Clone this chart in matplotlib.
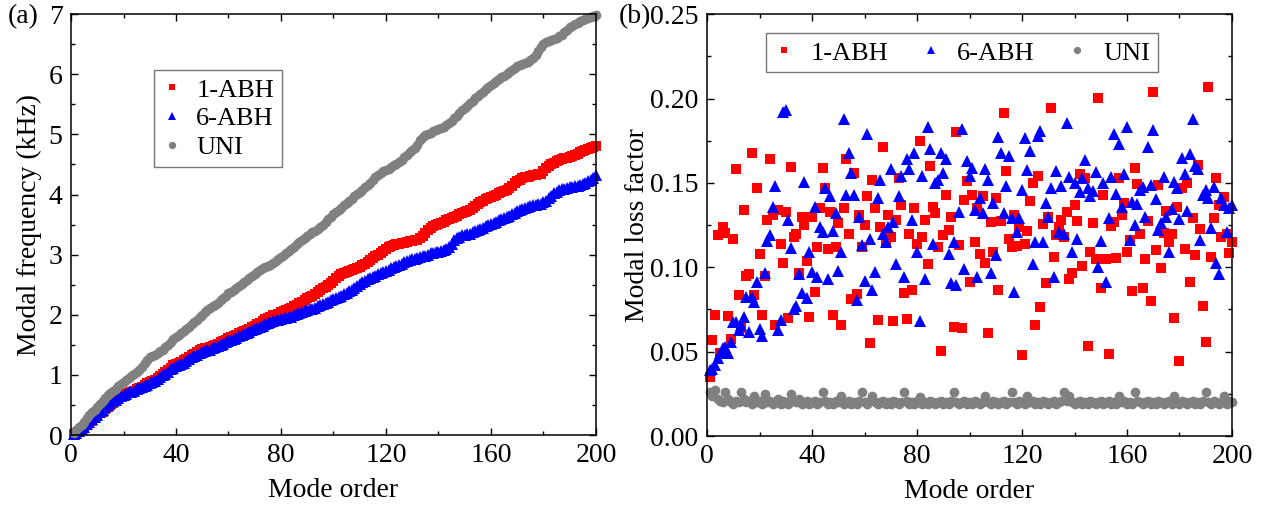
import matplotlib.pyplot as plt
from matplotlib.ticker import MultipleLocator, FormatStrFormatter

plt.rcParams['font.family'] = ['Liberation Serif', 'DejaVu Serif']
plt.rcParams['mathtext.fontset'] = 'stix'

modes = list(range(1, 201))

# (a) modal frequency, kHz
freq_abh1 = [
    0.01, 0.03, 0.06, 0.09, 0.13, 0.16, 0.20, 0.24, 0.28, 0.32,
    0.36, 0.39, 0.43, 0.46, 0.50, 0.53, 0.56, 0.60, 0.64, 0.66,
    0.68, 0.70, 0.72, 0.74, 0.76, 0.78, 0.80, 0.83, 0.86, 0.88,
    0.90, 0.92, 0.95, 0.98, 1.01, 1.04, 1.08, 1.12, 1.16, 1.18,
    1.20, 1.22, 1.24, 1.27, 1.30, 1.33, 1.35, 1.38, 1.41, 1.43,
    1.44, 1.45, 1.46, 1.48, 1.50, 1.52, 1.54, 1.56, 1.58, 1.61,
    1.63, 1.65, 1.67, 1.69, 1.71, 1.73, 1.75, 1.77, 1.79, 1.81,
    1.84, 1.87, 1.90, 1.93, 1.95, 1.97, 1.99, 2.00, 2.02, 2.04,
    2.06, 2.08, 2.10, 2.12, 2.14, 2.16, 2.19, 2.22, 2.25, 2.28,
    2.30, 2.32, 2.35, 2.38, 2.41, 2.44, 2.47, 2.50, 2.53, 2.57,
    2.61, 2.64, 2.67, 2.69, 2.71, 2.72, 2.74, 2.76, 2.78, 2.80,
    2.82, 2.85, 2.88, 2.91, 2.94, 2.97, 3.00, 3.03, 3.06, 3.09,
    3.12, 3.14, 3.16, 3.17, 3.18, 3.19, 3.20, 3.21, 3.22, 3.23,
    3.24, 3.25, 3.27, 3.31, 3.36, 3.41, 3.45, 3.47, 3.49, 3.51,
    3.53, 3.55, 3.57, 3.59, 3.61, 3.63, 3.65, 3.67, 3.69, 3.71,
    3.73, 3.75, 3.78, 3.81, 3.84, 3.87, 3.90, 3.92, 3.94, 3.96,
    3.98, 4.00, 4.02, 4.04, 4.06, 4.08, 4.11, 4.15, 4.19, 4.23,
    4.25, 4.27, 4.29, 4.30, 4.31, 4.32, 4.33, 4.34, 4.35, 4.39,
    4.44, 4.48, 4.51, 4.53, 4.55, 4.57, 4.59, 4.60, 4.61, 4.62,
    4.64, 4.66, 4.68, 4.70, 4.72, 4.74, 4.76, 4.78, 4.79, 4.80,
]
freq_abh6 = [
    0.01, 0.03, 0.06, 0.10, 0.14, 0.18, 0.22, 0.26, 0.30, 0.34,
    0.38, 0.42, 0.46, 0.50, 0.53, 0.56, 0.59, 0.62, 0.65, 0.67,
    0.69, 0.71, 0.72, 0.74, 0.76, 0.78, 0.80, 0.82, 0.84, 0.86,
    0.88, 0.90, 0.93, 0.96, 0.99, 1.02, 1.05, 1.09, 1.12, 1.14,
    1.16, 1.18, 1.20, 1.23, 1.26, 1.29, 1.31, 1.33, 1.36, 1.38,
    1.40, 1.41, 1.42, 1.44, 1.46, 1.48, 1.50, 1.52, 1.54, 1.56,
    1.58, 1.60, 1.62, 1.64, 1.66, 1.68, 1.70, 1.72, 1.74, 1.76,
    1.78, 1.80, 1.82, 1.84, 1.86, 1.88, 1.90, 1.91, 1.92, 1.93,
    1.94, 1.95, 1.96, 1.97, 1.99, 2.01, 2.03, 2.05, 2.07, 2.08,
    2.09, 2.10, 2.12, 2.14, 2.16, 2.18, 2.20, 2.22, 2.24, 2.26,
    2.28, 2.30, 2.32, 2.34, 2.36, 2.39, 2.42, 2.45, 2.48, 2.51,
    2.54, 2.57, 2.59, 2.61, 2.63, 2.65, 2.67, 2.69, 2.71, 2.73,
    2.75, 2.77, 2.79, 2.81, 2.83, 2.85, 2.87, 2.89, 2.91, 2.92,
    2.93, 2.95, 2.96, 2.97, 2.98, 3.00, 3.02, 3.03, 3.04, 3.05,
    3.06, 3.08, 3.10, 3.12, 3.18, 3.24, 3.28, 3.30, 3.32, 3.33,
    3.34, 3.35, 3.37, 3.39, 3.41, 3.43, 3.45, 3.47, 3.49, 3.51,
    3.53, 3.55, 3.57, 3.59, 3.61, 3.63, 3.65, 3.68, 3.70, 3.72,
    3.74, 3.76, 3.78, 3.80, 3.81, 3.82, 3.83, 3.84, 3.85, 3.87,
    3.90, 3.94, 3.98, 4.02, 4.05, 4.07, 4.09, 4.10, 4.11, 4.12,
    4.13, 4.14, 4.15, 4.16, 4.18, 4.20, 4.22, 4.25, 4.28, 4.32,
]
freq_uni = [
    0.03, 0.08, 0.13, 0.17, 0.22, 0.28, 0.33, 0.38, 0.42, 0.47,
    0.52, 0.56, 0.62, 0.66, 0.70, 0.73, 0.77, 0.82, 0.85, 0.88,
    0.91, 0.95, 0.98, 1.01, 1.04, 1.08, 1.13, 1.19, 1.25, 1.29,
    1.31, 1.33, 1.36, 1.39, 1.42, 1.46, 1.50, 1.55, 1.59, 1.63,
    1.66, 1.70, 1.73, 1.76, 1.80, 1.84, 1.88, 1.92, 1.96, 2.00,
    2.04, 2.08, 2.11, 2.14, 2.17, 2.20, 2.24, 2.28, 2.32, 2.36,
    2.38, 2.41, 2.44, 2.48, 2.52, 2.55, 2.58, 2.61, 2.64, 2.67,
    2.71, 2.74, 2.77, 2.79, 2.81, 2.83, 2.86, 2.89, 2.92, 2.96,
    3.00, 3.03, 3.06, 3.09, 3.13, 3.17, 3.21, 3.25, 3.28, 3.31,
    3.34, 3.37, 3.40, 3.43, 3.46, 3.50, 3.55, 3.59, 3.63, 3.67,
    3.71, 3.75, 3.78, 3.82, 3.86, 3.89, 3.93, 3.97, 4.01, 4.05,
    4.08, 4.12, 4.16, 4.20, 4.25, 4.29, 4.33, 4.36, 4.39, 4.41,
    4.43, 4.46, 4.49, 4.51, 4.54, 4.58, 4.62, 4.66, 4.70, 4.74,
    4.78, 4.82, 4.90, 4.96, 4.99, 5.01, 5.03, 5.05, 5.07, 5.09,
    5.11, 5.13, 5.16, 5.19, 5.23, 5.27, 5.31, 5.35, 5.40, 5.44,
    5.48, 5.52, 5.56, 5.60, 5.64, 5.67, 5.71, 5.75, 5.79, 5.82,
    5.86, 5.89, 5.92, 5.95, 5.98, 6.01, 6.04, 6.07, 6.10, 6.13,
    6.15, 6.17, 6.19, 6.21, 6.24, 6.27, 6.32, 6.39, 6.46, 6.51,
    6.53, 6.55, 6.57, 6.59, 6.61, 6.63, 6.66, 6.70, 6.74, 6.78,
    6.80, 6.83, 6.86, 6.88, 6.90, 6.92, 6.94, 6.96, 6.97, 6.98,
]

# (b) modal loss factor
loss_abh1 = [
    0.035, 0.057, 0.0715, 0.119, 0.049, 0.1236, 0.1205, 0.071, 0.0577, 0.117,
    0.158, 0.0835, 0.064, 0.134, 0.0948, 0.096, 0.1675, 0.0835, 0.1467, 0.108,
    0.0717, 0.0948, 0.128, 0.164, 0.131, 0.066, 0.134, 0.1136, 0.1027, 0.1325,
    0.0697, 0.1596, 0.118, 0.120, 0.0968, 0.130, 0.125, 0.104, 0.0707, 0.130,
    0.0853, 0.112, 0.135, 0.159, 0.147, 0.1106, 0.133, 0.0715, 0.112, 0.126,
    0.066, 0.135, 0.164, 0.120, 0.0815, 0.156, 0.084, 0.131, 0.112, 0.125,
    0.142, 0.0553, 0.152, 0.135, 0.0687, 0.124, 0.171, 0.115, 0.131, 0.118,
    0.0683, 0.128, 0.153, 0.137, 0.085, 0.0693, 0.120, 0.0865, 0.135, 0.114,
    0.175, 0.118, 0.128, 0.102, 0.160, 0.136, 0.132, 0.112, 0.0505, 0.119,
    0.143, 0.122, 0.130, 0.0644, 0.180, 0.113, 0.064, 0.140, 0.151, 0.091,
    0.143, 0.115, 0.135, 0.1076, 0.142, 0.1027, 0.0608, 0.127, 0.109, 0.141,
    0.0865, 0.1274, 0.1917, 0.157, 0.1165, 0.112, 0.131, 0.1125, 0.124, 0.048,
    0.1136, 0.1216, 0.1394, 0.150, 0.0658, 0.154, 0.0762, 0.1256, 0.0904, 0.130,
    0.1947, 0.1062, 0.1191, 0.124, 0.1283, 0.118, 0.133, 0.093, 0.0964, 0.137,
    0.1276, 0.155, 0.101, 0.153, 0.0533, 0.109, 0.126, 0.105, 0.2006, 0.0875,
    0.143, 0.1047, 0.0484, 0.1244, 0.127, 0.1056, 0.1527, 0.131, 0.138, 0.1092,
    0.116, 0.086, 0.1586, 0.1493, 0.1197, 0.0875, 0.105, 0.1276, 0.0802, 0.204,
    0.1102, 0.1487, 0.0993, 0.1205, 0.1335, 0.1147, 0.120, 0.0697, 0.1355, 0.0446,
    0.1467, 0.1108, 0.150, 0.091, 0.1295, 0.107, 0.1605, 0.1226, 0.0772, 0.0559,
    0.2066, 0.1062, 0.129, 0.153, 0.1372, 0.1177, 0.1414, 0.120, 0.1086, 0.115,
]
loss_abh6 = [
    0.039, 0.040, 0.042, 0.046, 0.049, 0.052, 0.0529, 0.0493, 0.056, 0.0677,
    0.0677, 0.0628, 0.066, 0.0703, 0.0825, 0.0614, 0.0825, 0.0796, 0.0914, 0.0632,
    0.0592, 0.0964, 0.1157, 0.119, 0.136, 0.148, 0.0628, 0.0687, 0.192, 0.193,
    0.128, 0.1116, 0.075, 0.077, 0.0958, 0.0845, 0.1507, 0.0816, 0.109, 0.0973,
    0.136, 0.094, 0.124, 0.121, 0.1467, 0.0932, 0.142, 0.1216, 0.132, 0.098,
    0.109, 0.188, 0.143, 0.168, 0.156, 0.143, 0.0805, 0.130, 0.113, 0.092,
    0.179, 0.117, 0.0865, 0.097, 0.141, 0.152, 0.120, 0.115, 0.124, 0.158,
    0.127, 0.102, 0.142, 0.154, 0.094, 0.164, 0.158, 0.128, 0.168, 0.109,
    0.0683, 0.154, 0.093, 0.183, 0.170, 0.114, 0.150, 0.152, 0.168, 0.156,
    0.164, 0.108, 0.0905, 0.115, 0.0895, 0.133, 0.182, 0.099, 0.163, 0.154,
    0.159, 0.134, 0.094, 0.141, 0.132, 0.158, 0.152, 0.0968, 0.138, 0.107,
    0.177, 0.168, 0.132, 0.148, 0.166, 0.1295, 0.0855, 0.121, 0.129, 0.146,
    0.1764, 0.1576, 0.169, 0.102, 0.115, 0.1777, 0.181, 0.1151, 0.1383, 0.130,
    0.147, 0.094, 0.1572, 0.1207, 0.148, 0.1195, 0.1856, 0.1536, 0.109, 0.1497,
    0.1165, 0.1447, 0.1532, 0.1635, 0.147, 0.142, 0.145, 0.1566, 0.0999, 0.1155,
    0.150, 0.0914, 0.1295, 0.1536, 0.179, 0.1434, 0.173, 0.1355, 0.155, 0.1833,
    0.116, 0.1388, 0.125, 0.1374, 0.1457, 0.1477, 0.130, 0.1714, 0.1487, 0.1813,
    0.1404, 0.122, 0.126, 0.1536, 0.1299, 0.109, 0.1343, 0.1507, 0.1467, 0.1284,
    0.165, 0.1552, 0.1335, 0.167, 0.188, 0.160, 0.158, 0.116, 0.1428, 0.1457,
    0.141, 0.123, 0.1473, 0.1023, 0.096, 0.141, 0.137, 0.121, 0.135, 0.137,
]
loss_uni = [
    0.026, 0.024, 0.027, 0.022, 0.021, 0.020, 0.026, 0.022, 0.020, 0.019,
    0.021, 0.020, 0.026, 0.022, 0.020, 0.021, 0.019, 0.024, 0.020, 0.021,
    0.019, 0.025, 0.020, 0.021, 0.019, 0.020, 0.022, 0.019, 0.021, 0.020,
    0.019, 0.025, 0.021, 0.020, 0.022, 0.019, 0.020, 0.021, 0.019, 0.020,
    0.021, 0.019, 0.020, 0.026, 0.021, 0.019, 0.020, 0.019, 0.021, 0.020,
    0.024, 0.019, 0.020, 0.021, 0.019, 0.020, 0.019, 0.021, 0.026, 0.020,
    0.019, 0.021, 0.024, 0.020, 0.019, 0.020, 0.021, 0.019, 0.020, 0.019,
    0.021, 0.020, 0.019, 0.020, 0.026, 0.021, 0.019, 0.020, 0.019, 0.021,
    0.023, 0.019, 0.020, 0.019, 0.021, 0.020, 0.019, 0.020, 0.021, 0.019,
    0.020, 0.019, 0.021, 0.026, 0.020, 0.019, 0.020, 0.021, 0.019, 0.020,
    0.019, 0.021, 0.020, 0.019, 0.020, 0.024, 0.020, 0.019, 0.021, 0.020,
    0.019, 0.020, 0.021, 0.019, 0.020, 0.026, 0.020, 0.019, 0.021, 0.020,
    0.019, 0.024, 0.020, 0.021, 0.019, 0.020, 0.019, 0.021, 0.020, 0.019,
    0.020, 0.021, 0.019, 0.020, 0.021, 0.026, 0.021, 0.024, 0.020, 0.019,
    0.020, 0.021, 0.019, 0.020, 0.019, 0.021, 0.020, 0.019, 0.020, 0.021,
    0.019, 0.020, 0.021, 0.019, 0.020, 0.019, 0.024, 0.020, 0.021, 0.019,
    0.020, 0.019, 0.026, 0.021, 0.020, 0.019, 0.020, 0.021, 0.019, 0.020,
    0.019, 0.021, 0.020, 0.019, 0.020, 0.021, 0.019, 0.024, 0.020, 0.019,
    0.021, 0.020, 0.019, 0.020, 0.021, 0.019, 0.020, 0.019, 0.021, 0.026,
    0.020, 0.019, 0.021, 0.020, 0.019, 0.020, 0.024, 0.019, 0.021, 0.020,
]

labels = ['1-ABH', '6-ABH', 'UNI']
colors = ['#ff0000', '#0000ff', '#808080']
markers = ['s', '^', 'o']
msizes = [6.6, 8.6, 7.0]


def style_axes(ax):
    for sp in ax.spines.values():
        sp.set_linewidth(1.1)
    ax.tick_params(which='both', direction='in', top=True, right=True,
                   labelsize=20, width=1.0, pad=6)
    ax.tick_params(which='major', length=5)
    ax.tick_params(which='minor', length=3)


fig = plt.figure(figsize=(12.68, 5.07), dpi=100)
ax1 = fig.add_axes([0.056, 0.142, 0.414, 0.830])
ax2 = fig.add_axes([0.5576, 0.140, 0.414, 0.832])

for y, lab, c, m, ms in zip([freq_abh1, freq_abh6, freq_uni], labels, colors, markers, msizes):
    ax1.plot(modes, y, linestyle='none', marker=m, ms=ms, color=c,
             markeredgewidth=0, label=lab, clip_on=False)
ax1.set_xlim(0, 200)
ax1.set_ylim(0, 7)
ax1.xaxis.set_major_locator(MultipleLocator(40))
ax1.xaxis.set_minor_locator(MultipleLocator(20))
ax1.yaxis.set_major_locator(MultipleLocator(1))
ax1.yaxis.set_minor_locator(MultipleLocator(0.5))
ax1.set_xlabel('Mode order', fontsize=20, labelpad=7)
ax1.set_ylabel('Modal frequency (kHz)', fontsize=20, labelpad=5)
style_axes(ax1)
leg1 = ax1.legend(loc='upper left', bbox_to_anchor=(0.158, 0.867), fontsize=19,
                  frameon=True, fancybox=False, edgecolor='#555555',
                  handlelength=0.8, handletextpad=0.5, borderpad=0.3,
                  labelspacing=0.2, markerscale=0.75, borderaxespad=0)
leg1.get_frame().set_linewidth(1.0)
fig.text(0.006, 0.955, '(a)', fontsize=20)

for y, lab, c, m, ms in zip([loss_abh1, loss_abh6, loss_uni], labels, colors, markers, msizes):
    ax2.plot(modes, y, linestyle='none', marker=m, ms=ms, color=c,
             markeredgewidth=0, label=lab, clip_on=False)
ax2.set_xlim(0, 200)
ax2.set_ylim(0, 0.25)
ax2.xaxis.set_major_locator(MultipleLocator(40))
ax2.xaxis.set_minor_locator(MultipleLocator(20))
ax2.yaxis.set_major_locator(MultipleLocator(0.05))
ax2.yaxis.set_minor_locator(MultipleLocator(0.025))
ax2.yaxis.set_major_formatter(FormatStrFormatter('%.2f'))
ax2.set_xlabel('Mode order', fontsize=20, labelpad=7)
ax2.set_ylabel('Modal loss factor', fontsize=20, labelpad=0)
style_axes(ax2)
leg2 = ax2.legend(loc='upper left', bbox_to_anchor=(0.112, 0.955), ncol=3,
                  fontsize=19, frameon=True, fancybox=False, edgecolor='#555555',
                  handlelength=0.8, handletextpad=0.6, borderpad=0.3,
                  columnspacing=1.2, markerscale=0.75, borderaxespad=0)
leg2.get_frame().set_linewidth(1.0)
fig.text(0.488, 0.955, '(b)', fontsize=20)

fig.savefig('out.png', dpi=100)
